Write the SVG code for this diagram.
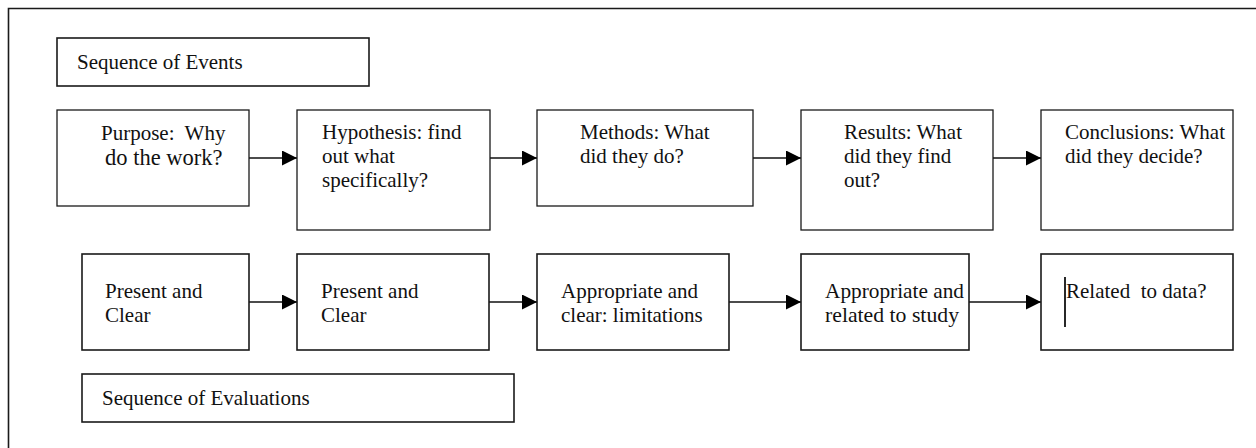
<svg xmlns="http://www.w3.org/2000/svg" width="1256" height="448" viewBox="0 0 1256 448">
<style>
  .box{fill:#fff;stroke:#1a1a1a;stroke-width:1.6}
  .box1{fill:#fff;stroke:#1a1a1a;stroke-width:1.3}
  .t{font-family:"Liberation Serif","Times New Roman",serif;font-size:21px;fill:#111;white-space:pre}
  .conn{stroke:#111;stroke-width:1.6;fill:none;marker-end:url(#ah)}
</style>
<defs>
  <marker id="ah" markerUnits="userSpaceOnUse" markerWidth="16" markerHeight="16" refX="15" refY="7.5" orient="auto">
    <path d="M0,0 L15,7.5 L0,15 z" fill="#000"/>
  </marker>
</defs>
<rect width="1256" height="448" fill="#fff"/>
<g id="frame">
  <path d="M8.5,448 L8.5,8.5 L1256,8.5" fill="none" stroke="#1a1a1a" stroke-width="1.6"/>
</g>
<g id="connectors">
  <line class="conn" x1="249" y1="158" x2="297" y2="158"/>
  <line class="conn" x1="490" y1="158" x2="537" y2="158"/>
  <line class="conn" x1="753" y1="158" x2="801" y2="158"/>
  <line class="conn" x1="993" y1="158" x2="1041" y2="158"/>
  <line class="conn" x1="249" y1="302" x2="297" y2="302"/>
  <line class="conn" x1="489" y1="302" x2="537" y2="302"/>
  <line class="conn" x1="729" y1="302" x2="801" y2="302"/>
  <line class="conn" x1="969" y1="302" x2="1041" y2="302"/>
</g>
<g id="seq-events">
  <rect class="box" x="57" y="38" width="312" height="48"/>
  <text class="t" x="77" y="69">Sequence of Events</text>
</g>
<g id="purpose">
  <rect class="box1" x="57" y="110" width="192" height="96"/>
  <text class="t" x="101" y="140" xml:space="preserve">Purpose:  Why</text>
  <text class="t" x="105" y="165" style="font-size:22.5px">do the work?</text>
</g>
<g id="hypothesis">
  <rect class="box1" x="297" y="110" width="193" height="120"/>
  <text class="t" x="322" y="139">Hypothesis: find</text>
  <text class="t" x="322" y="163">out what</text>
  <text class="t" x="322" y="187">specifically?</text>
</g>
<g id="methods">
  <rect class="box1" x="537" y="110" width="216" height="96"/>
  <text class="t" x="580" y="139">Methods: What</text>
  <text class="t" x="580" y="163">did they do?</text>
</g>
<g id="results">
  <rect class="box1" x="801" y="110" width="192" height="120"/>
  <text class="t" x="844" y="139">Results: What</text>
  <text class="t" x="844" y="163">did they find</text>
  <text class="t" x="844" y="187">out?</text>
</g>
<g id="conclusions">
  <rect class="box1" x="1041" y="110" width="192" height="120"/>
  <text class="t" x="1065" y="139">Conclusions: What</text>
  <text class="t" x="1065" y="163">did they decide?</text>
</g>
<g id="eval-purpose">
  <rect class="box" x="82" y="254" width="167" height="96"/>
  <text class="t" x="105" y="298">Present and</text>
  <text class="t" x="105" y="322">Clear</text>
</g>
<g id="eval-hypothesis">
  <rect class="box" x="297" y="254" width="192" height="96"/>
  <text class="t" x="321" y="298">Present and</text>
  <text class="t" x="321" y="322">Clear</text>
</g>
<g id="eval-methods">
  <rect class="box" x="537" y="254" width="192" height="96"/>
  <text class="t" x="561" y="298">Appropriate and</text>
  <text class="t" x="561" y="322">clear: limitations</text>
</g>
<g id="eval-results">
  <rect class="box" x="801" y="254" width="168" height="96"/>
  <text class="t" x="825" y="298" textLength="139" lengthAdjust="spacingAndGlyphs">Appropriate and</text>
  <text class="t" x="825" y="322" textLength="134" lengthAdjust="spacingAndGlyphs">related to study</text>
</g>
<g id="eval-conclusions">
  <rect class="box" x="1041" y="254" width="192" height="96"/>
  <line x1="1065" y1="277" x2="1065" y2="327" stroke="#111" stroke-width="1.8"/>
  <text class="t" x="1066" y="298" xml:space="preserve">Related  to data?</text>
</g>
<g id="seq-evaluations">
  <rect class="box" x="82" y="374" width="432" height="48"/>
  <text class="t" x="102" y="405">Sequence of Evaluations</text>
</g>
</svg>
